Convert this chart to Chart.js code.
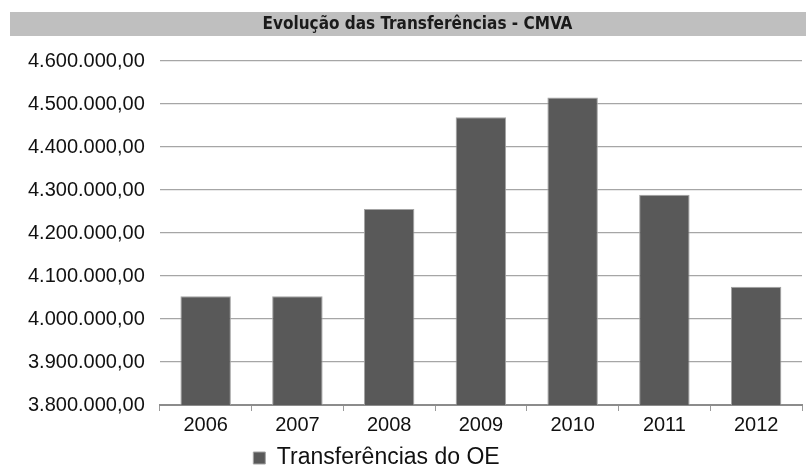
<!DOCTYPE html>
<html>
<head>
<meta charset="utf-8">
<script src="https://cdn.jsdelivr.net/npm/chart.js@4.4.1/dist/chart.umd.min.js"></script>
<style>
  html, body { margin: 0; padding: 0; background: #fff; }
  #wrap { width: 806px; height: 468px; }
</style>
</head>
<body>
<div id="wrap"><canvas id="chart" width="806" height="468"></canvas></div>
<script>
const titulo = 'Evolução das Transferências - CMVA';
const anos = ['2006', '2007', '2008', '2009', '2010', '2011', '2012'];
const transferencias = [4053000, 4053000, 4256000, 4469000, 4515000, 4289000, 4075000];
const serieNome = 'Transferências do OE';
const yMin = 3800000;
const yMax = 4600000;
const yPasso = 100000;

// formato 4.600.000,00
function fmt(v) {
    const inteiro = Math.round(v).toString().replace(/\B(?=(\d{3})+(?!\d))/g, '.');
    return inteiro + ',00';
}

// faixa cinzenta atrás do título, legenda e título um pouco deslocados
const extras = {
    id: 'extras',
    afterLayout(chart) {
        const lg = chart.legend;
        lg.right -= 62;
        lg.top += 7.5;
        lg.bottom += 7.5;
        chart.titleBlock.left += 20;
    },
    beforeDraw(chart) {
        const ctx = chart.ctx;
        const t = chart.titleBlock;
        ctx.save();
        ctx.fillStyle = '#bfbfbf';
        ctx.fillRect(10, t.top, chart.width - 10, 24);
        ctx.restore();
    }
};

const ctx = document.getElementById('chart').getContext('2d');
new Chart(ctx, {
    type: 'bar',
    data: {
        labels: anos,
        datasets: [{
            label: serieNome,
            data: transferencias,
            backgroundColor: '#595959',
            borderColor: '#a3a3a3',
            borderWidth: 1,
            borderSkipped: 'bottom',
            barPercentage: 0.55,
            categoryPercentage: 1
        }]
    },
    options: {
        responsive: false,
        animation: false,
        devicePixelRatio: 1,
        layout: { padding: { top: 12, left: 13, right: 4, bottom: -4 } },
        scales: {
            x: {
                grid: {
                    display: true,
                    drawOnChartArea: false,
                    drawTicks: true,
                    tickLength: 6,
                    color: '#9a9a9a',
                    offset: true
                },
                border: { display: true, color: '#8c8c8c', width: 2 },
                ticks: {
                    color: '#111',
                    padding: 2,
                    font: { family: 'Liberation Sans', size: 20 }
                }
            },
            y: {
                min: yMin,
                max: yMax,
                grid: { color: '#a6a6a6', lineWidth: 1.2, drawTicks: false },
                border: { display: false },
                ticks: {
                    stepSize: yPasso,
                    color: '#111',
                    padding: 15,
                    font: { family: 'Liberation Sans', size: 20 },
                    callback: (v) => fmt(v)
                }
            }
        },
        plugins: {
            title: {
                display: true,
                text: titulo,
                color: '#1a1a1a',
                font: { family: 'DejaVu Sans Condensed', size: 17, weight: 'bold' },
                padding: { top: 2, bottom: 26.6 }
            },
            legend: {
                position: 'bottom',
                labels: {
                    color: '#111',
                    boxWidth: 12,
                    boxHeight: 12,
                    padding: 0,
                    font: { family: 'Liberation Sans', size: 23 }
                }
            },
            tooltip: { enabled: false }
        }
    },
    plugins: [extras]
});
</script>
</body>
</html>
